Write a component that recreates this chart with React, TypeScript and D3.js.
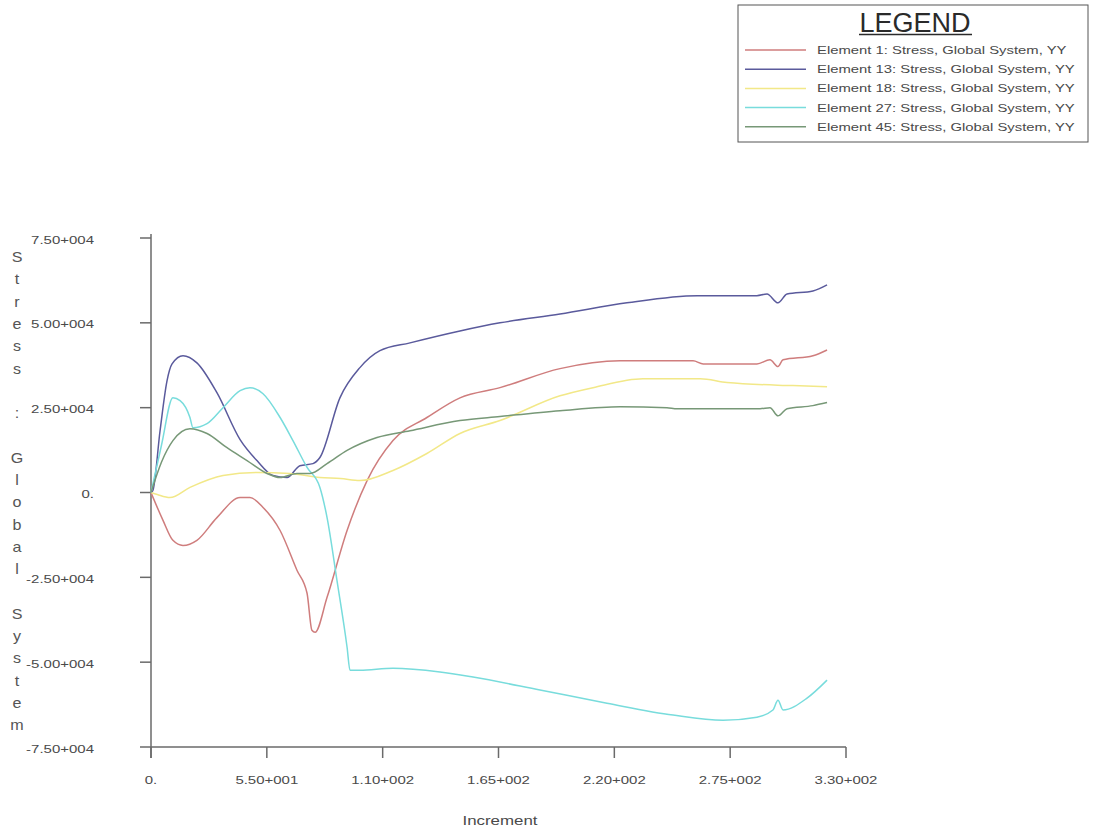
import React from "react";
import * as d3 from "d3";

// Increment values and stresses (Global System, YY)
const element1: [number, number][] = [
  [0, 0], [1, -1500], [5.7, -8200], [10.4, -14100], [15.2, -15600], [21.8, -14100],
  [31.3, -7400], [42.3, -1500], [47, -1500], [53.2, -4400], [61.3, -11200],
  [69.3, -22900], [74.1, -29700], [76.4, -40600], [77.9, -41200], [83.6, -30900],
  [93.1, -11200], [102.6, 3500], [114.9, 15300], [131, 22100], [146.7, 27900],
  [165.7, 30900], [194.2, 36500], [222.7, 38800], [257.4, 38800], [262.2, 37900],
  [287.7, 37900], [293.9, 39100], [297.7, 37100], [300.1, 39100], [314.3, 40300],
  [321, 42000],
];

const element13: [number, number][] = [
  [0, 0], [0.9, 600], [4.3, 18200], [7.6, 32900], [10, 37900], [15.2, 40300],
  [21.8, 38200], [31.3, 29400], [42.3, 15600], [50.3, 9400], [57.9, 5000],
  [64.6, 4400], [70.7, 7900], [76.9, 8500], [80.2, 10300], [89.7, 27900],
  [99.2, 36800], [108.7, 41800], [123, 44100], [146.7, 47600], [165.7, 50000],
  [194.2, 52600], [226, 55900], [259.3, 58000], [287.7, 58000], [292.5, 58500],
  [297.7, 55900], [302, 58500], [314.3, 59400], [321, 61200],
];

const element18: [number, number][] = [
  [0, 0], [3, -600], [9, -1500], [18.5, 1500], [34.2, 5000], [50.3, 5900],
  [66, 5600], [80.2, 4400], [90, 4100], [99.2, 3500], [114.9, 6500], [131, 11500],
  [146.7, 17400], [165.7, 21200], [194.2, 28500], [209.9, 30900], [233.6, 33500],
  [260.7, 33500], [273.5, 32400], [304.8, 31500], [321, 31200],
];

const element27: [number, number][] = [
  [0, 0], [5, 14000], [10.4, 27900], [13.8, 27100], [18.5, 22100], [19.9, 19100],
  [26.6, 20300], [34.2, 25000], [42.3, 30000], [47, 30900], [53.2, 29100],
  [61.3, 22100], [67.4, 15300], [74.1, 7400], [80.2, 1500], [83.6, -7400],
  [88.3, -25900], [93.1, -45600], [94.5, -52400], [99.2, -52400], [114.9, -51800],
  [137.2, -52900], [152.9, -54400], [184.7, -58200], [216.5, -62100],
  [247.9, -65600], [271.6, -67100], [287.7, -66200], [295.3, -64100],
  [297.7, -61200], [300.1, -64100], [311.5, -60600], [321, -55300],
];

const element45: [number, number][] = [
  [0, 0], [5, 9000], [10.4, 15300], [18.5, 18800], [26.6, 17400], [36.1, 13200],
  [45.6, 9400], [55.1, 5600], [61.3, 4400], [69.3, 5600], [75.5, 5600],
  [83.6, 8500], [93.1, 12400], [107.3, 16200], [123, 18200], [146.7, 21200],
  [165.7, 22400], [194.2, 24100], [222.7, 25300], [245, 25000], [249.8, 24700],
  [289.2, 24700], [293.9, 25000], [297.7, 22600], [302, 24700], [314.3, 25600],
  [321, 26500],
];

const seriesNames = [
  "Element 1: Stress, Global System, YY",
  "Element 13: Stress, Global System, YY",
  "Element 18: Stress, Global System, YY",
  "Element 27: Stress, Global System, YY",
  "Element 45: Stress, Global System, YY",
];
const seriesColors = ["#cf7d7d", "#5a5a9c", "#f2e888", "#78dcdc", "#779877"];
const seriesData = [element1, element13, element18, element27, element45];

const xTicks = [0, 55, 110, 165, 220, 275, 330];
const xTickLabels = ["0.", "5.50+001", "1.10+002", "1.65+002", "2.20+002", "2.75+002", "3.30+002"];
const yTicks = [75000, 50000, 25000, 0, -25000, -50000, -75000];
const yTickLabels = ["7.50+004", "5.00+004", "2.50+004", "0.", "-2.50+004", "-5.00+004", "-7.50+004"];
const yTitle = "Stress : Global System";
const xTitle = "Increment";

const FONT = "'Liberation Sans', Arial, sans-serif";
const TXT = "#4a4a4a";
const AXIS = "#6a6a6a";

export default function App() {
  const x = d3.scaleLinear().domain([0, 330]).range([151, 846]);
  const y = d3.scaleLinear().domain([-75000, 75000]).range([747, 238]);
  const line = d3
    .line<[number, number]>()
    .x((d) => x(d[0]))
    .y((d) => y(d[1]))
    .curve(d3.curveMonotoneX);

  const letters = yTitle.split("");
  const letterStep = 22.3;

  return (
    <svg
      width={1093}
      height={832}
      style={{ position: "absolute", left: 0, top: 0, background: "#fff" }}
    >
      <rect x={0} y={0} width={1093} height={832} fill="#fff" />

      {/* Legend */}
      <rect x={738} y={5} width={350} height={137} fill="#fff" stroke="#555" strokeWidth={1} />
      <text x={915} y={32} textAnchor="middle" fontFamily={FONT} fontSize={27} fill="#2a2a2a">
        LEGEND
      </text>
      <line x1={859} x2={972} y1={34.5} y2={34.5} stroke="#2a2a2a" strokeWidth={1.5} />
      {seriesNames.map((name, i) => {
        const ry = 50 + i * 19.2;
        return (
          <g key={name}>
            <line x1={745} x2={806} y1={ry} y2={ry} stroke={seriesColors[i]} strokeWidth={1.5} />
            <text
              transform={`translate(817,${ry + 4}) scale(1.35,1)`}
              fontFamily={FONT}
              fontSize={11}
              fill={TXT}
            >
              {name}
            </text>
          </g>
        );
      })}

      {/* Axes */}
      <line x1={151} x2={151} y1={234} y2={758} stroke={AXIS} strokeWidth={1.5} />
      <line x1={151} x2={846} y1={747} y2={747} stroke={AXIS} strokeWidth={1.5} />
      {yTicks.map((t, i) => (
        <g key={"y" + t}>
          <line x1={140} x2={151} y1={y(t)} y2={y(t)} stroke={AXIS} strokeWidth={1.5} />
          <text
            transform={`translate(94,${y(t) + 5.5}) scale(1.5,1)`}
            textAnchor="end"
            fontFamily={FONT}
            fontSize={10}
            fill={TXT}
          >
            {yTickLabels[i]}
          </text>
        </g>
      ))}
      {xTicks.map((t, i) => (
        <g key={"x" + t}>
          <line x1={x(t)} x2={x(t)} y1={747} y2={758} stroke={AXIS} strokeWidth={1.5} />
          <text
            transform={`translate(${x(t)},${784}) scale(1.5,1)`}
            textAnchor="middle"
            fontFamily={FONT}
            fontSize={10}
            fill={TXT}
          >
            {xTickLabels[i]}
          </text>
        </g>
      ))}

      {/* Axis titles */}
      <text
        transform={`translate(500,825) scale(1.3,1)`}
        textAnchor="middle"
        fontFamily={FONT}
        fontSize={13}
        fill={TXT}
      >
        {xTitle}
      </text>
      {letters.map((c, i) => (
        <text
          key={"l" + i}
          transform={`translate(17,${257 + i * letterStep + 5}) scale(1.15,1)`}
          textAnchor="middle"
          fontFamily={FONT}
          fontSize={14}
          fill="#555"
        >
          {c}
        </text>
      ))}

      {/* Series */}
      {seriesData.map((data, i) => (
        <path
          key={"s" + i}
          d={line(data) || ""}
          fill="none"
          stroke={seriesColors[i]}
          strokeWidth={1.5}
          strokeLinejoin="round"
        />
      ))}
    </svg>
  );
}
